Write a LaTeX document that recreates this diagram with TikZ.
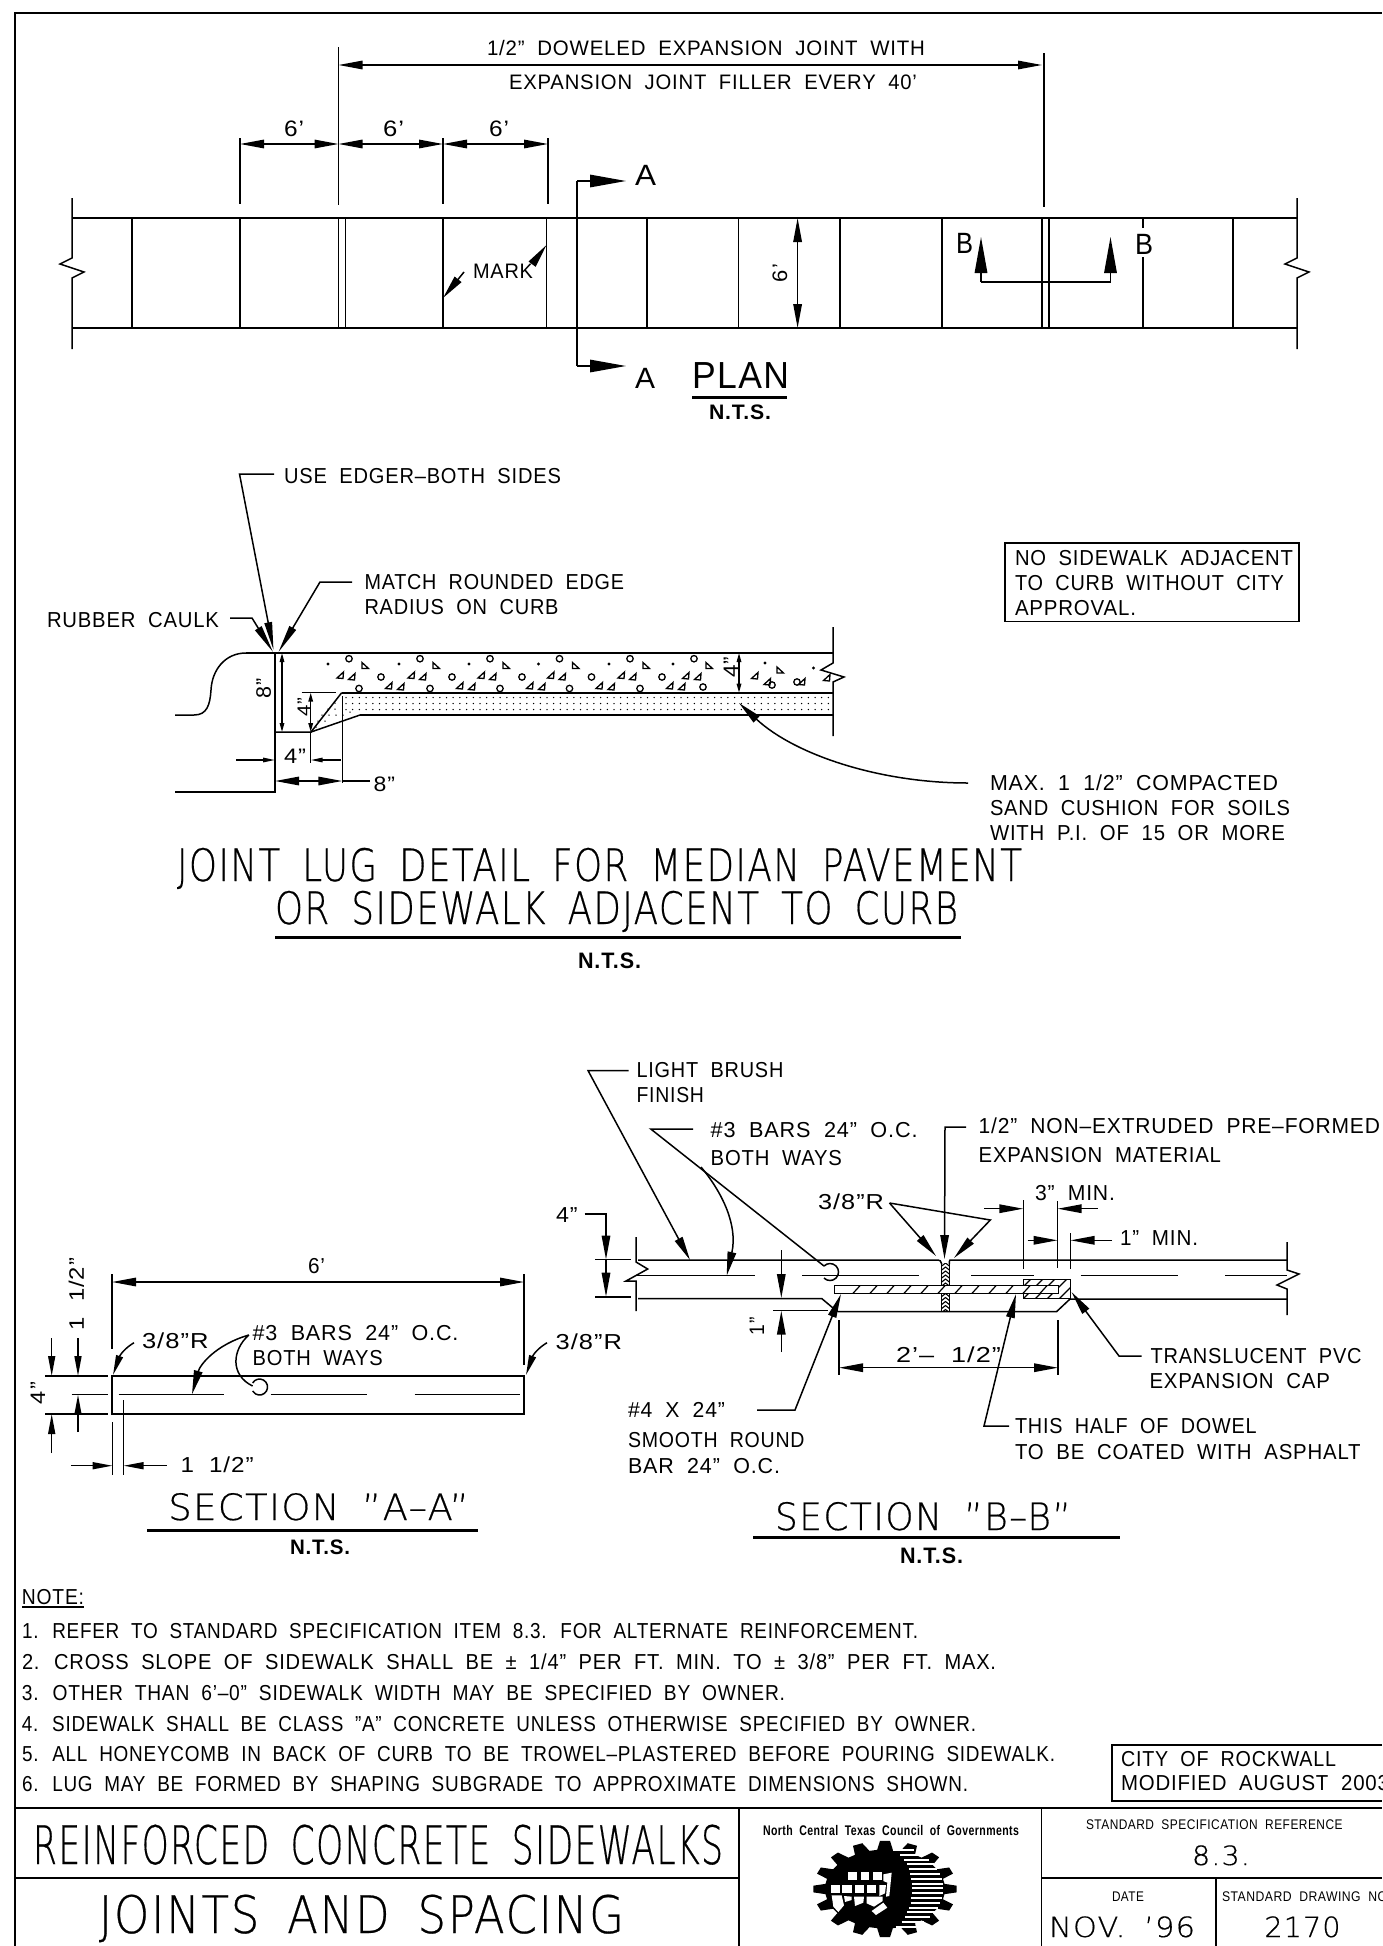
\documentclass[tikz,border=0pt]{standalone}
\usepackage{fontspec}
\usepackage{graphicx}
\usetikzlibrary{arrows.meta}
\setmainfont[LetterSpace=4]{Liberation Sans}
\newfontfamily\cadbig[FakeBold=0.5,LetterSpace=4]{DejaVu Sans ExtraLight}
\newcommand\mklbl[7]{%
  \pgfmathsetmacro\lblw{#3-#2}\pgfmathsetmacro\lblfs{#6/0.716}%
  \node[anchor=base west,inner sep=0pt,outer sep=0pt] (#1) at (#2,#4) {\resizebox{\lblw pt}{\height}{#7\fontsize{\lblfs pt}{\lblfs pt}\selectfont\spaceskip=0.62em\relax #5}};}
% name, x0, x1, baseline, text, cap height
\newcommand\lbl[6]{\mklbl{#1}{#2}{#3}{#4}{#5}{#6}{}}
\newcommand\nts[6]{\mklbl{#1}{#2}{#3}{#4}{#5}{#6}{\bfseries}}
\newcommand\biglbl[6]{\mklbl{#1}{#2}{#3}{#4}{#5}{#6}{\cadbig}}
% name, cx, cy, length, cap height, text (rotated, reads upward)
\newcommand\rlbl[6]{%
  \pgfmathsetmacro\lblfs{#5/0.716}%
  \node[rotate=90,inner sep=0pt,outer sep=0pt] (#1) at (#2,#3) {\resizebox{#4 pt}{\height}{\fontsize{\lblfs pt}{\lblfs pt}\selectfont\spaceskip=0.62em\relax #6}};}
\newcommand\Tri[2]{\draw[agg] (#1-3.5,#2+2.5) -- (#1+3,#2-3.5) -- (#1+2.5,#2+3) -- cycle;}
\newcommand\TriB[2]{\draw[agg] (#1-3,#2-3) -- (#1+3.5,#2+3) -- (#1-3,#2+3) -- cycle;}
\newcommand\Dot[2]{\fill (#1,#2) circle[radius=1.6pt];}
\newcommand\Ring[2]{\draw[agg] (#1,#2) circle[radius=3.2pt];}
\tikzset{
  thin line/.style={line width=1.5pt},
  agg/.style={line width=1.3pt},
  heavy/.style={line width=2.4pt},
  >={Triangle[length=24pt,width=8.5pt]},
  bighead/.style={>={Triangle[length=36pt,width=12.5pt]}},
  tinyhead/.style={>={Triangle[length=9pt,width=4.5pt]}},
  smallhead/.style={>={Triangle[length=12pt,width=4.5pt]}},
  midhead/.style={>={Triangle[length=20pt,width=7pt]}},
  slimhead/.style={>={Triangle[length=28pt,width=7.5pt]}},
}
\begin{document}
\begin{tikzpicture}[x=1pt,y=-1pt,thin line,line join=miter]
\useasboundingbox (0,0) rectangle (1382,1946);
\fill[white] (0,0) rectangle (1382,1946);
% frame
\draw[line width=2pt] (15,1946) -- (15,12.7) -- (1382,12.7);

%%%%%%%%%% PLAN
\draw[heavy] (72,218) -- (1297,218);
\draw[heavy] (72,328) -- (1297,328);
\foreach \xx in {132,240,338.5,345.5,443,546.5,647,738.5,840,942,1042,1049,1233}
  \draw (\xx,218) -- (\xx,328);
\draw (1143,218) -- (1143,228);
\draw (1143,257) -- (1143,328);
\draw (72,198) -- (72,258) -- (60,264) -- (84,272) -- (72,278) -- (72,349);
\draw (1297,198) -- (1297,258) -- (1285,264) -- (1309,272) -- (1297,278) -- (1297,349);
% section A cut
\draw[->,bighead] (577,181) -- (626,181);
\draw (577,181) -- (577,366);
\draw[->,bighead] (577,366) -- (626,366);
\lbl{aa1}{635}{656}{185}{A}{21}
\lbl{aa2}{635}{655}{388}{A}{21}
\lbl{plan}{692}{789}{388}{PLAN}{27}
\draw[line width=3pt] (692,397) -- (787,397);
\nts{nts1}{709}{771}{419}{N.T.S.}{15}
% dims
\draw (338.5,47) -- (338.5,205);
\draw (1044,53) -- (1044,207);
\draw[<->] (338.5,65) -- (1042,65);
\lbl{t1}{487}{925}{55}{1/2” DOWELED EXPANSION JOINT WITH}{15}
\lbl{t2}{509}{917}{89}{EXPANSION JOINT FILLER EVERY 40’}{15}
\draw (240,138) -- (240,204);
\draw (443,138) -- (443,204);
\draw (548,138) -- (548,204);
\draw[<->] (240,144) -- (338.5,144);
\draw[<->] (338.5,144) -- (443,144);
\draw[<->] (443,144) -- (548,144);
\lbl{s1}{284}{304}{136}{6’}{16}
\lbl{s2}{383}{404}{136}{6’}{16}
\lbl{s3}{489}{509}{136}{6’}{16}
\draw[<->] (797.6,218) -- (797.6,328);
\rlbl{w6}{780}{273}{18}{15}{6’}
\lbl{mark}{473}{533}{278}{MARK}{15}
\draw[->] (464,272) -- (443,298);
\draw[->] (533,263) -- (546.5,245);
% section B cut
\draw[->,bighead] (981,282) -- (981,237);
\draw[->,bighead] (1110.5,282) -- (1110.5,237);
\draw (981,282) -- (1110.5,282);
\lbl{bb1}{956}{973}{253}{B}{21}
\lbl{bb2}{1135}{1153}{254}{B}{21}

%%%%%%%%%% LUG DETAIL
\lbl{l1}{284}{561}{483}{USE EDGER–BOTH SIDES}{15.5}
\lbl{l2}{364.5}{624}{589}{MATCH ROUNDED EDGE}{15.5}
\lbl{l3}{364.5}{558.6}{614}{RADIUS ON CURB}{15.5}
\lbl{l4}{47}{219}{627}{RUBBER CAULK}{15.5}
\draw[->,slimhead] (274,474) -- (239.5,474) -- (273.5,650);
\draw[->,slimhead] (352,582) -- (320,582) -- (278.5,652);
\draw[->,slimhead] (230,618) -- (252,618) -- (273,652);
% curb
\draw (175,715) -- (194,715) .. controls (207,715) and (210,705) .. (211,690)
  .. controls (212,670) and (225,653) .. (246,653);
\draw[heavy,line width=1.8pt] (246,653) -- (834,653);
\draw (275,653) -- (275,792) -- (175,792);
\draw (275,732) -- (311,732) -- (341.7,692.7);
\draw[heavy,line width=1.8pt] (341.7,692.7) -- (833,692.7);
\draw (311,732) -- (360,715);
\draw[heavy,line width=1.8pt] (360,715) -- (833,715);
\draw (833,627) -- (833,663) -- (821,670) -- (844,677) -- (833,682) -- (833,736);
% sand
\foreach \yy in {697.5,703.5,709.5}
  \foreach \xx in {346,352.7,...,830}
    \fill (\xx,\yy) circle[radius=0.75pt];
\foreach \xx/\yy in {335/703,328/709,335/709,322/715,329/715,336/715,343/715,350/712,318/721,325/721,316/727}
  \fill (\xx,\yy) circle[radius=0.75pt];
% aggregate
\foreach \bx in {328,399,469,538.5,609} {
  \Dot{\bx}{664}
  \Ring{\bx+21}{658.7}
  \TriB{\bx+37}{665.5}
  \Tri{\bx+12.5}{675.5}
  \Tri{\bx+24}{677}
  \Ring{\bx+53}{677}
  \Tri{\bx+61}{686}
  \Tri{\bx+73}{687}
  \Ring{\bx+31}{688.5}
}
\Dot{673}{664}\Ring{694}{658.7}\TriB{709}{665.5}\Tri{686}{676}\Tri{698}{677}\Ring{703}{687}
\Dot{765}{663}\TriB{780}{670}\Dot{813.5}{668}\Tri{755}{676}\Tri{767.5}{682}\Ring{772}{685}\Ring{797}{682}\Tri{802}{682}\Tri{827}{678}
% dims
\draw[<->,tinyhead] (739,653) -- (739,692.7);
\rlbl{d4a}{731}{667}{21}{15}{4”}
\draw[<->,tinyhead] (282,653) -- (282,732);
\rlbl{d8}{263.6}{688}{20}{15}{8”}
\draw (301.5,692.7) -- (336,692.7);
\draw[<->,tinyhead] (310.7,692.7) -- (310.7,732);
\rlbl{d4b}{304}{707}{19}{13}{4”}
\draw[->,smallhead] (236,760) -- (275,760);
\draw[->,smallhead] (340.5,760) -- (310.7,760);
\draw (310.7,732) -- (310.7,763);
\draw (342.3,696) -- (342.3,783);
\lbl{d4c}{284}{306}{763}{4”}{15}
\draw[<->] (275,781) -- (342.3,781);
\draw (342.3,781) -- (370,781);
\lbl{d8c}{373.6}{395}{791}{8”}{15}
\draw[<-] (739,703) .. controls (795,755) and (880,783) .. (968,783);
\lbl{m1}{990}{1278}{790.5}{MAX. 1 1/2” COMPACTED}{15.5}
\lbl{m2}{990}{1290}{815.5}{SAND CUSHION FOR SOILS}{15.5}
\lbl{m3}{990}{1285}{840}{WITH P.I. OF 15 OR MORE}{15.5}
\draw[line width=1.8pt] (1005,543) rectangle (1299,621.5);
\lbl{n1}{1015}{1293}{565}{NO SIDEWALK ADJACENT}{15.5}
\lbl{n2}{1015}{1284}{590}{TO CURB WITHOUT CITY}{15.5}
\lbl{n3}{1015}{1136}{615}{APPROVAL.}{15.5}
\biglbl{h1}{177}{1022}{881}{JOINT LUG DETAIL FOR MEDIAN PAVEMENT}{32}
\biglbl{h2}{275}{958}{924}{OR SIDEWALK ADJACENT TO CURB}{32}
\draw[line width=3pt] (275,937) -- (961,937);
\nts{nts2}{578}{641}{968}{N.T.S.}{16}

%%%%%%%%%% SECTION A-A
\draw (112,1376) rectangle (524,1414);
\draw (118.6,1394.7) -- (224,1394.7);
\draw (270.6,1394.7) -- (367.4,1394.7);
\draw (414.5,1394.7) -- (519.7,1394.7);
\draw (252.6,1383) arc[start angle=150,end angle=-150,radius=8pt];
\draw[<->] (112,1282) -- (524,1282);
\draw (112,1274) -- (112,1349);
\draw (524,1274) -- (524,1365);
\lbl{a1}{308}{325}{1273}{6’}{15.5}
\lbl{a2}{142}{208.6}{1348}{3/8”R}{15.5}
\lbl{a3}{555.7}{622}{1349}{3/8”R}{15.5}
\draw[->,midhead] (134,1342.7) .. controls (125,1348) and (120,1355) .. (113,1375);
\draw[->,midhead] (547,1342.7) .. controls (538,1348) and (533,1355) .. (526,1375);
\lbl{a4}{252.6}{458.5}{1340}{\#3 BARS 24” O.C.}{15.5}
\lbl{a5}{252.6}{382.7}{1365}{BOTH WAYS}{15.5}
\draw[->] (248.8,1335) .. controls (215,1345) and (200,1365) .. (192,1394.3);
\draw (248.8,1335) .. controls (232,1350) and (230,1375) .. (252.6,1386);
% left dims
\draw (45,1376) -- (108,1376);
\draw (71.6,1394.7) -- (108,1394.7);
\draw (45,1414) -- (108,1414);
\draw[->,midhead] (51.7,1338) -- (51.7,1376);
\draw[->,midhead] (51.7,1453) -- (51.7,1414);
\draw[->,midhead] (78,1338) -- (78,1376);
\draw[->,midhead] (78,1432) -- (78,1394.7);
\rlbl{a6}{38}{1393}{22}{15}{4”}
\rlbl{a7}{76.5}{1294}{72}{15}{1 1/2”}
\draw (112.5,1422) -- (112.5,1475);
\draw (123.6,1400) -- (123.6,1475);
\draw[->,midhead] (70.8,1465.7) -- (112.5,1465.7);
\draw[->,midhead] (166.5,1465.7) -- (123.6,1465.7);
\lbl{a8}{180.6}{253.7}{1472}{1 1/2”}{15.5}
\biglbl{a9}{168.4}{468.8}{1520}{SECTION ”A–A”}{26}
\draw[line width=3pt] (147.3,1530) -- (478.4,1530);
\nts{nts3}{290}{350}{1554}{N.T.S.}{15}

%%%%%%%%%% SECTION B-B
\lbl{b1}{636.5}{783.4}{1077}{LIGHT BRUSH}{15.5}
\lbl{b2}{636.5}{704}{1102}{FINISH}{15.5}
\draw[->] (628.5,1070.5) -- (588,1070.5) -- (690,1260);
\lbl{b3}{710.7}{917.6}{1137}{\#3 BARS 24” O.C.}{15.5}
\lbl{b4}{710.7}{842}{1165}{BOTH WAYS}{15.5}
\draw (693,1129) -- (650.8,1129) -- (824,1266);
\draw[->] (701,1167) .. controls (722,1192) and (738,1225) .. (726.7,1275.7);
\draw (824,1266) arc[start angle=135,end angle=-135,radius=8.5pt];
\lbl{b5}{978.6}{1380}{1133}{1/2” NON–EXTRUDED PRE–FORMED}{15.5}
\lbl{b6}{978.6}{1221}{1162}{EXPANSION MATERIAL}{15.5}
\draw[->] (966,1127) -- (945,1127) -- (944.5,1259);
\lbl{b7}{818}{884}{1209}{3/8”R}{15.5}
\draw[->] (889.5,1203) -- (936,1256);
\draw[->] (889.5,1203) -- (990.3,1220) -- (954,1258);
% slab
\draw (638,1260) -- (938,1260) .. controls (940,1260) and (941,1261) .. (941.7,1264);
\draw (1287,1260) -- (950,1260) .. controls (949.6,1260) and (949.3,1261) .. (949.3,1264);
\foreach \aa/\bb in {637/755,802/919,971/1034,1080.5/1177.6,1225/1287}
  \draw (\aa,1275.7) -- (\bb,1275.7);
\draw (636,1237) -- (636,1262) -- (647.7,1269) -- (626,1281) -- (636,1281) -- (636,1311);
\draw (1287,1242) -- (1287,1270) -- (1299,1274) -- (1277,1285) -- (1287,1289) -- (1287,1315);
\draw (638,1298.5) -- (821.7,1298.5) -- (833,1308) -- (838,1311.5) -- (1056.7,1311.5) -- (1070,1299) -- (1287,1299);
\draw (773,1310.7) -- (828,1310.7);
% filler
\foreach \ya/\yb in {1263/1285,1293.5/1311}{
  \draw[line width=1.2pt] (941.7,\ya) -- (941.7,\yb);
  \draw[line width=1.2pt] (949.3,\ya) -- (949.3,\yb);
  \begin{scope}
  \clip (941.7,\ya) rectangle (949.3,\yb);
  \pgfmathsetmacro\ycc{\ya+4}
  \foreach \yy in {\ya,\ycc,...,\yb}
    \draw[line width=1.1pt] (941.7,\yy+3) -- (945.5,\yy) -- (949.3,\yy+3);
  \end{scope}
}
% cap
\begin{scope}
\clip (1023.3,1279.5) rectangle (1070.7,1298.5);
\foreach \xx in {1010,1022,...,1082}
  \draw[line width=1.2pt] (\xx,1300) -- (\xx+21,1279);
\end{scope}
\draw (1023.3,1279.5) rectangle (1070.7,1298.5);
% dowel
\fill[white] (834.3,1285.7) rectangle (1058.3,1293.3);
\begin{scope}
\clip (834.3,1285.7) rectangle (1058.3,1293.3);
\foreach \xx in {853,870,...,1050}
  \draw[line width=1.2pt] (\xx,1293.3) -- (\xx+7,1285.7);
\end{scope}
\draw (834.3,1285.7) rectangle (1058.3,1293.3);
% leaders
\lbl{b8}{1035}{1115}{1200}{3” MIN.}{15.5}
\lbl{b9}{1120}{1198}{1245}{1” MIN.}{15.5}
\draw (1023.3,1200) -- (1023.3,1269);
\draw (1057.5,1201) -- (1057.5,1268);
\draw (1070.5,1233) -- (1070.5,1269);
\draw[->] (984,1208.7) -- (1023.3,1208.7);
\draw[->] (1097.5,1208.7) -- (1057.5,1208.7);
\draw[->] (1027.5,1240.3) -- (1057.5,1240.3);
\draw[->] (1112,1240.3) -- (1070.5,1240.3);
\lbl{b10}{556}{577.6}{1222}{4”}{15.5}
\draw (595,1259.5) -- (630.7,1259.5);
\draw[line width=2pt] (595,1296.7) -- (630.7,1296.7);
\draw[->] (584.5,1214) -- (606,1214) -- (606,1259.5);
\draw[->] (606,1259.5) -- (606,1296.7);
\draw[->] (781.3,1250) -- (781.3,1298);
\draw[->] (781.3,1352) -- (781.3,1310.7);
\rlbl{b11}{757}{1326}{18}{15}{1”}
\lbl{b12}{896}{1001}{1362}{2’– 1/2”}{15.5}
\draw (839,1320) -- (839,1375);
\draw (1058,1320) -- (1058,1375);
\draw[<->] (839,1367.7) -- (1058,1367.7);
\lbl{b13}{628}{725}{1417}{\#4 X 24”}{15.5}
\lbl{b14}{628}{804.6}{1447}{SMOOTH ROUND}{15.5}
\lbl{b15}{628}{780}{1473}{BAR 24” O.C.}{15.5}
\draw[->] (757,1410) -- (795,1410) -- (841,1294);
\lbl{b16}{1150.5}{1361.7}{1363}{TRANSLUCENT PVC}{15.5}
\lbl{b17}{1149.5}{1330}{1388}{EXPANSION CAP}{15.5}
\draw[->] (1141.5,1356) -- (1119,1356) -- (1071.5,1292);
\lbl{b18}{1015}{1256.6}{1433}{THIS HALF OF DOWEL}{15.5}
\lbl{b19}{1015}{1360.6}{1459}{TO BE COATED WITH ASPHALT}{15.5}
\draw[->] (1009,1426) -- (984,1426) -- (1016,1294);
\biglbl{b20}{775}{1071}{1530}{SECTION ”B–B”}{27}
\draw[line width=3pt] (753,1537) -- (1120,1537);
\nts{nts4}{900}{963}{1563}{N.T.S.}{16}

%%%%%%%%%% NOTES
\lbl{no0}{22}{84}{1604}{NOTE:}{15.5}
\draw (22,1607) -- (84,1607);
\lbl{no1}{22}{918}{1638}{1. REFER TO STANDARD SPECIFICATION ITEM 8.3. FOR ALTERNATE REINFORCEMENT.}{15.5}
\lbl{no2}{22}{996}{1669}{2. CROSS SLOPE OF SIDEWALK SHALL BE ± 1/4” PER FT. MIN. TO ± 3/8” PER FT. MAX.}{15.5}
\lbl{no3}{22}{785}{1700}{3. OTHER THAN 6’–0” SIDEWALK WIDTH MAY BE SPECIFIED BY OWNER.}{15.5}
\lbl{no4}{22}{976}{1731}{4. SIDEWALK SHALL BE CLASS ”A” CONCRETE UNLESS OTHERWISE SPECIFIED BY OWNER.}{15.5}
\lbl{no5}{22}{1055}{1761.5}{5. ALL HONEYCOMB IN BACK OF CURB TO BE TROWEL–PLASTERED BEFORE POURING SIDEWALK.}{15.5}
\lbl{no6}{22}{968}{1791.5}{6. LUG MAY BE FORMED BY SHAPING SUBGRADE TO APPROXIMATE DIMENSIONS SHOWN.}{15.5}
% city box
\draw[line width=2.2pt] (1382,1745) -- (1111.7,1745) -- (1111.7,1801) -- (1382,1801);
\lbl{c1}{1121}{1336}{1766}{CITY OF ROCKWALL}{15.5}
\lbl{c2}{1121}{1389}{1790}{MODIFIED AUGUST 2003}{15.5}

%%%%%%%%%% TITLE BLOCK
\draw[line width=2.4pt] (15,1807.7) -- (1382,1807.7);
\draw (739,1807.7) -- (739,1946);
\draw (1041.7,1807.7) -- (1041.7,1946);
\draw (15,1878) -- (739,1878);
\draw (1041.7,1878) -- (1382,1878);
\draw (1216,1878) -- (1216,1946);
\biglbl{tb1}{33}{723}{1864}{REINFORCED CONCRETE SIDEWALKS}{38}
\biglbl{tb2}{99}{624}{1933}{JOINTS AND SPACING}{37}
\nts{tb3}{763}{1019}{1835}{North Central Texas Council of Governments}{10}
\lbl{tb4}{1086}{1342.6}{1829}{STANDARD SPECIFICATION REFERENCE}{10}
\biglbl{tb5}{1192}{1250}{1865}{8.3.}{19}
\lbl{tb6}{1112}{1144}{1901}{DATE}{10}
\lbl{tb7}{1222}{1391}{1901}{STANDARD DRAWING NO.}{10}
\biglbl{tb8}{1049}{1195}{1937}{NOV. ’96}{20}
\biglbl{tb9}{1264.5}{1340.5}{1937}{2170}{20}

% logo
\begin{scope}[shift={(885,1889)}]
\fill (-7.5:60pt and 39.5pt) \foreach \a in {0,22.5,...,337.5} {
   -- (\a-7.5:60pt and 39.5pt) -- (\a-4:71.7pt and 48.3pt) -- (\a+4:71.7pt and 48.3pt) -- (\a+7.5:60pt and 39.5pt)} -- cycle;
\end{scope}
\foreach \yy in {1850,1854.8,...,1929} {
  \pgfmathsetmacro\dyy{(\yy-1889)/40}
  \pgfmathsetmacro\xbb{888+24*sqrt(max(0,1-\dyy*\dyy))}
  \pgfmathsetmacro\dyz{(\yy-1889)/45}
  \pgfmathsetmacro\xee{885+58*sqrt(max(0,1-\dyz*\dyz))}
  \draw[white,line width=2pt] (\xbb,\yy) -- (\xee,\yy);
}
\begin{scope}[shift={(800,1836)},x=0.3333pt,y=-0.3333pt]
\fill[white] (145,108) rectangle (170,132);
\fill[white] (182,108) rectangle (207,132);
\fill[white] (220,108) -- (245,108) -- (245,132) -- (220,132) -- cycle;
\fill[white] (92,147) rectangle (120,172);
\fill[white] (127,147) rectangle (155,172);
\fill[white] (165,147) rectangle (192,172);
\fill[white] (200,147) rectangle (228,172);
\fill[white] (238,147) -- (258,147) -- (255,172) -- (238,180) -- cycle;
\fill[white] (250,115) -- (275,110) -- (268,180) -- (258,182) -- (262,140) -- (250,135) -- cycle;
\fill[white] (95,178) -- (125,178) -- (132,208) -- (115,228) -- (100,212) -- cycle;
\fill[white] (132,180) -- (155,182) -- (155,192) -- (135,198) -- cycle;
\fill[white] (162,182) -- (192,182) -- (190,200) -- (165,210) -- cycle;
\fill[white] (200,182) -- (248,182) -- (248,195) -- (222,212) -- (200,202) -- cycle;
\fill[white] (215,225) -- (250,200) -- (262,215) -- (228,237) -- cycle;
\end{scope}
\end{tikzpicture}
\end{document}
